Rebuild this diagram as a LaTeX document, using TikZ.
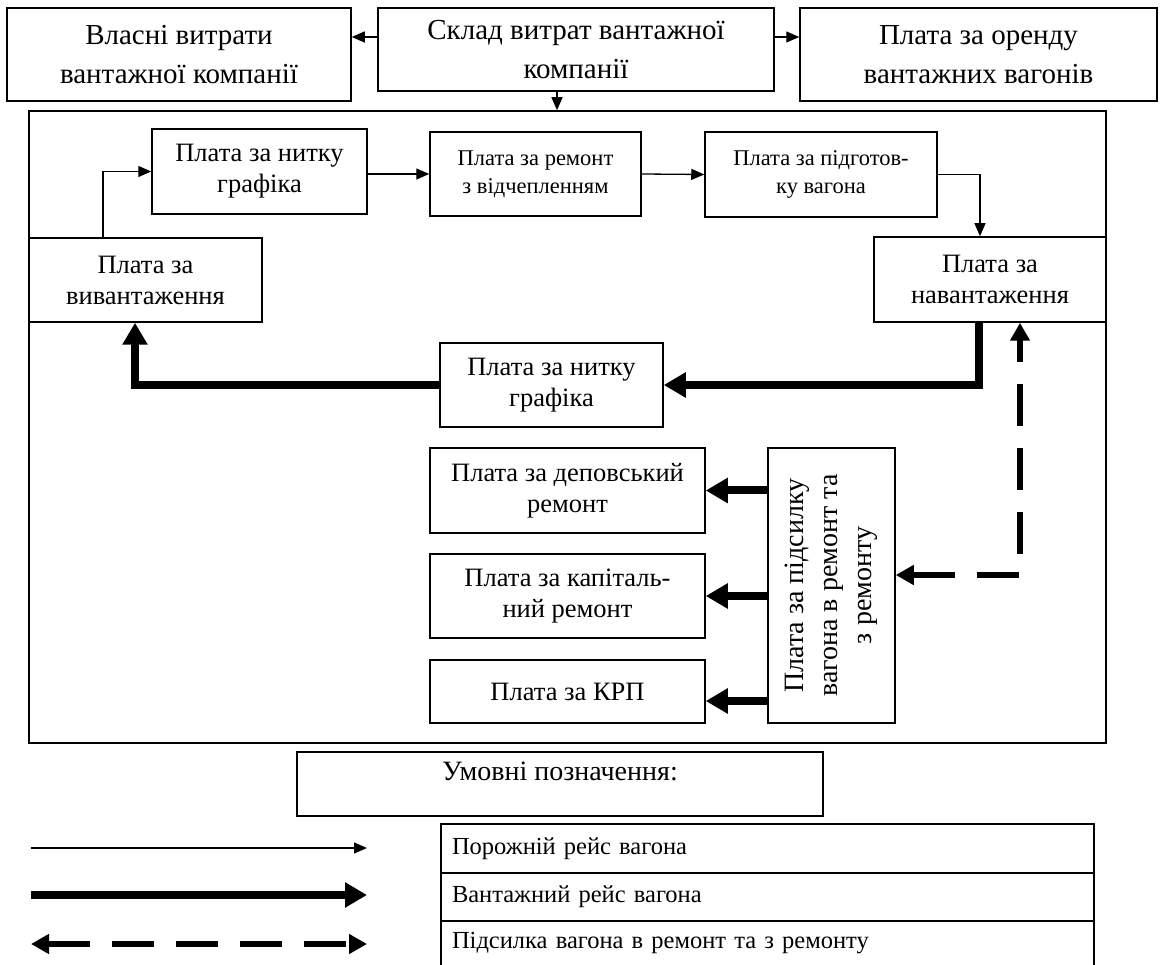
\documentclass[tikz,border=0pt]{standalone}
\usepackage{fontspec}
\setmainfont{Liberation Serif}
\usetikzlibrary{arrows.meta}

\begin{document}
\begin{tikzpicture}[x=1pt, y=-1pt,
  box/.style={draw, line width=1.5pt, inner sep=0pt, align=center},
  topbox/.style={box, font=\fontsize{29}{39}\selectfont},
  midfont/.style={font=\fontsize{26.5}{31}\selectfont},
  smallfont/.style={font=\fontsize{22.5}{28}\selectfont},
  legfont/.style={font=\fontsize{24.5}{28}\selectfont},
  thinarr/.style={line width=1.3pt, -{Triangle[length=13pt,width=11pt]}},
  thickarr/.style={line width=8pt, -{Triangle[length=22pt,width=24pt]}},
  dasharr/.style={line width=5.5pt, dash pattern=on 42pt off 22pt,
    {Triangle[length=18pt,width=19pt]}-{Triangle[length=18pt,width=19pt]}}]
\useasboundingbox (0,0) rectangle (1163,965);

% top row
\node[topbox, minimum width=344pt, minimum height=93pt] (own) at (179,54.5) {Власні витрати\\вантажної компанії};
\node[topbox, minimum width=396pt, minimum height=83pt] (comp) at (576,49.5) {Склад витрат вантажної\\компанії};
\node[topbox, minimum width=357pt, minimum height=93pt] (rent) at (978.5,54.5) {Плата за оренду\\вантажних вагонів};

% frame
\node[box, minimum width=1077pt, minimum height=632pt] (frame) at (567.5,427) {};

% empty run
\node[box, midfont, minimum width=215pt, minimum height=85pt] (thread) at (259.5,171.5) {Плата за нитку\\графіка};
\node[box, smallfont, minimum width=211pt, minimum height=84pt] (repair) at (535.5,174) {Плата за ремонт\\з відчепленням};
\node[box, smallfont, minimum width=232pt, minimum height=85pt] (prep) at (821,174.5) {Плата за підготов-\\ку вагона};
\node[box, midfont, minimum width=232pt, minimum height=85pt] (load) at (990,279.5) {Плата за\\навантаження};
\node[box, midfont, minimum width=233pt, minimum height=84pt] (unload) at (145.5,280) {Плата за\\вивантаження};

% loaded run
\node[box, midfont, minimum width=223pt, minimum height=84pt] (threadb) at (551.5,385) {Плата за нитку\\графіка};

% repairs
\node[box, midfont, minimum width=275pt, minimum height=85pt] (depot) at (567.5,490.5) {Плата за деповський\\ремонт};
\node[box, midfont, minimum width=275pt, minimum height=84pt] (capital) at (567.5,596) {Плата за капіталь-\\ний ремонт};
\node[box, midfont, minimum width=275pt, minimum height=63pt] (krp) at (567.5,691.5) {Плата за КРП};
\node[box, minimum width=127pt, minimum height=275pt] (send) at (831.5,585.5) {};
\node[rotate=90, align=center, font=\fontsize{28}{34}\selectfont] (sendtxt) at (send.center) {Плата за підсилку\\вагона в ремонт та\\з ремонту};

% connectors
\coordinate (cl) at ([yshift=12.5pt]comp.west);
\coordinate (cr) at ([yshift=12.5pt]comp.east);
\coordinate (kr) at ([yshift=-9.5pt]krp.east);
\draw[thinarr] (cl) -- (cl -| own.east);
\draw[thinarr] (cr) -- (cr -| rent.west);
\draw[thinarr] ([xshift=-19pt]comp.south) -- ([xshift=-19pt]comp.south |- frame.north);

\draw[thinarr] ([xshift=-42.5pt]unload.north) |- (thread.west);
\draw[thinarr] (thread.east |- repair.west) -- (repair.west);
\draw[thinarr] (repair.east) -- (prep.west);
\draw[thinarr] (prep.east) -| ([xshift=-10pt]load.north);

\draw[thickarr] ([xshift=-11pt]load.south) |- (threadb.east);
\draw[thickarr] (threadb.west) -| ([xshift=-10.5pt]unload.south);

\draw[thickarr] (send.west |- depot.east) -- (depot.east);
\draw[thickarr] (send.west |- capital.east) -- (capital.east);
\draw[thickarr] (send.west |- kr) -- (kr);
\draw[dasharr] ([yshift=10.5pt]send.east) -| ([xshift=30pt]load.south);

% legend
\node[box, font=\fontsize{28}{32}\selectfont, minimum width=526pt, text height=28pt, text depth=36pt] (legend) at (560,784) {Умовні позначення:};
\node[box, legfont, minimum width=653pt, minimum height=49pt, inner xsep=11pt, text width=631pt, align=left] (empty) at (767.5,848.5) {Порожній рейс вагона};
\node[box, legfont, minimum width=653pt, minimum height=48pt, inner xsep=11pt, text width=631pt, align=left] (loaded) at (767.5,897) {Вантажний рейс вагона};
\node[legfont, minimum width=653pt, minimum height=44pt, inner sep=0pt, inner xsep=11pt, text width=631pt, align=left] (sending) at (767.5,943) {Підсилка вагона в ремонт та з ремонту};
\draw[line width=1.5pt] (sending.south west) -- (sending.north west) -- (sending.north east) -- (sending.south east);

\coordinate (e1) at (31,848);
\coordinate (e2) at (367,848);
\coordinate (f1) at (31,895);
\coordinate (f2) at (367,895);
\coordinate (g1) at (31,944);
\coordinate (g2) at (367,944);
\draw[thinarr] (e1) -- (e2);
\draw[thickarr] (f1) -- (f2);
\draw[dasharr] (g1) -- (g2);
\end{tikzpicture}
\end{document}
